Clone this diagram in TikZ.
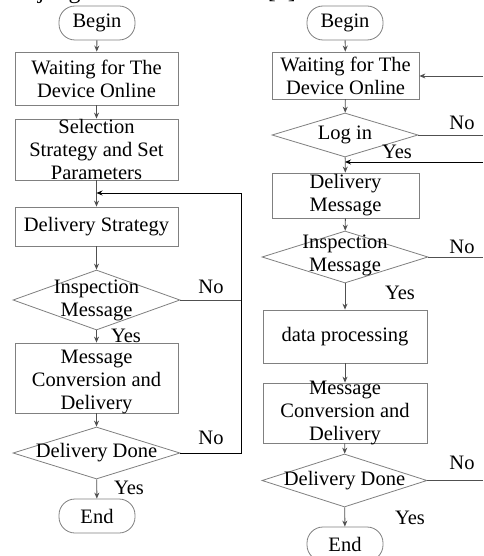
\documentclass[tikz,border=0pt]{standalone}
\usepackage{fontspec}
\setmainfont{Liberation Serif}
\usetikzlibrary{shapes.geometric,arrows.meta}
\definecolor{boxgray}{HTML}{808080}
\definecolor{linegray}{HTML}{505050}
\tikzset{
  txt/.style={font=\fontsize{20.5}{23}\selectfont, align=center, inner sep=0pt, text=black},
  lbl/.style={font=\fontsize{20.5}{23}\selectfont, inner sep=0pt, text=black},
  boxnode/.style={draw=boxgray, line width=0.8pt, rectangle, inner sep=0pt, minimum width=#1},
  termnode/.style={draw=boxgray, line width=0.8pt, rectangle, rounded corners=16pt, inner sep=0pt, minimum width=76pt, minimum height=34pt},
  decnode/.style={draw=boxgray, line width=0.8pt, diamond, inner sep=0pt, aspect=3},
  conn/.style={draw=linegray, line width=0.9pt},
  arr/.style={conn, -{Stealth[length=6pt,width=5pt]}},
}
\begin{document}
\begin{tikzpicture}[x=1pt,y=-1pt]
\useasboundingbox (0,0) rectangle (483,556);
\clip (0,0) rectangle (483,556);
\fill[white] (0,0) rectangle (483,556);

% partial body text at top
\node[anchor=base east, font=\fontsize{24}{26}\selectfont, inner sep=0pt] (toptext) at (302,-1.5) {e judge and save the data [6].};

% ---------------- left flowchart ----------------
\node[termnode, label={[txt]center:Begin}] (b1) at (97,23) {};
\node[boxnode=163pt, minimum height=53pt, label={[txt]center:Waiting for The\\Device Online}] (w1) at (96.5,78.5) {};
\node[boxnode=163pt, minimum height=61pt, label={[txt]center:Selection\\Strategy and Set\\Parameters}] (s1) at (96.5,149.5) {};
\node[boxnode=163pt, minimum height=39pt, label={[txt]center:Delivery Strategy}] (d1) at (96.5,226.5) {};
\node[decnode, minimum width=167pt, minimum height=60pt, label={[txt]center:Inspection\\Message}] (i1) at (96.5,300) {};
\node[boxnode=163pt, minimum height=70pt, label={[txt, yshift=-3.5pt]center:Message\\Conversion and\\Delivery}] (m1) at (96.5,378) {};
\node[decnode, minimum width=167pt, minimum height=52pt, label={[txt]center:Delivery Done}] (dd1) at (96.5,453) {};
\node[termnode, label={[txt]center:End}] (e1) at (97,516) {};

\coordinate (lj) at (96.5,193);
\coordinate (lr1) at (241,300);
\coordinate (lr2) at (241,453);
\coordinate (lr3) at (241,193);

\draw[arr] (b1) -- (w1);
\draw[arr] (w1) -- (s1);
\draw[arr] (s1) -- (d1);
\draw[arr] (d1) -- (i1);
\draw[arr] (i1) -- (m1);
\draw[arr] (m1) -- (dd1);
\draw[arr] (dd1) -- (e1);
\draw[conn] (i1.east) -- (lr1);
\draw[arr, draw=black] (dd1.east) -- (lr2) -- (lr3) -- (lj);

\node[lbl] (n1) at (211,287) {No};
\node[lbl] (n2) at (211,438) {No};
\node[lbl] (y1) at (126,336) {Yes};
\node[lbl] (y2) at (129,488) {Yes};

% ---------------- right flowchart ----------------
\node[termnode, label={[txt]center:Begin}] (b2) at (345,23) {};
\node[boxnode=147pt, minimum height=47pt, label={[txt]center:Waiting for The\\Device Online}] (w2) at (345.5,75.5) {};
\node[decnode, minimum width=146pt, minimum height=44pt, label={[txt]center:Log in}] (l2) at (345,135) {};
\node[boxnode=147pt, minimum height=45pt, label={[txt]center:Delivery\\Message}] (dm2) at (345.5,195.5) {};
\node[decnode, minimum width=166pt, minimum height=52pt, label={[txt, yshift=2pt]center:Inspection\\Message}] (i2) at (345,257) {};
\node[boxnode=164pt, minimum height=53pt, label={[txt]center:data processing}] (dp2) at (345,336.5) {};
\node[boxnode=164pt, minimum height=60pt, label={[txt]center:Message\\Conversion and\\Delivery}] (m2) at (345,413) {};
\node[decnode, minimum width=165pt, minimum height=53pt, label={[txt]center:Delivery Done}] (dd2) at (344.5,480.5) {};
\node[termnode, label={[txt]center:End}] (e2) at (345,544) {};

\coordinate (rw) at (483,76);
\coordinate (rl) at (483,135);
\coordinate (ry) at (483,162);
\coordinate (rj) at (345,162);
\coordinate (ri) at (483,257);
\coordinate (rd) at (483,480.5);

\draw[arr] (b2) -- (w2);
\draw[arr] (w2) -- (l2);
\draw[arr] (l2) -- (dm2);
\draw[arr] (dm2) -- (i2);
\draw[arr] (i2) -- (dp2);
\draw[arr] (dp2) -- (m2);
\draw[arr] (m2) -- (dd2);
\draw[arr] (dd2) -- (e2);
\draw[arr] (rw) -- (w2.east |- rw);
\draw[conn] (l2.east) -- (rl);
\draw[arr, draw=black] (ry) -- (rj);
\draw[conn] (i2.east) -- (ri);
\draw[conn] (dd2.east) -- (rd);

\node[lbl] (n3) at (462,123) {No};
\node[lbl] (n4) at (462,247) {No};
\node[lbl] (n5) at (462,463) {No};
\node[lbl] (y3) at (397,152) {Yes};
\node[lbl] (y4) at (400,293) {Yes};
\node[lbl] (y5) at (410,518) {Yes};
\end{tikzpicture}
\end{document}
